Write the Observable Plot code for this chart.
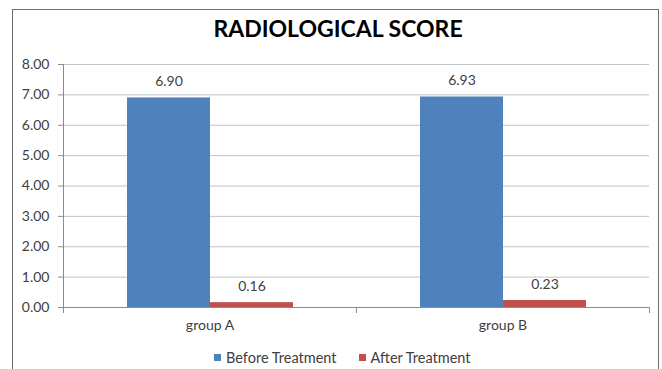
<!DOCTYPE html>
<html><head><meta charset="utf-8">
<script src="https://cdn.jsdelivr.net/npm/d3@7"></script>
<script src="https://cdn.jsdelivr.net/npm/@observablehq/plot@0.6"></script>
<style>
html,body{margin:0;padding:0;background:#fff;overflow:hidden;}
#wrap{position:relative;width:662px;height:369px;overflow:hidden;font-family:Lato,"Open Sans",sans-serif;}
#border{position:absolute;left:12px;top:9px;width:647px;height:420px;border:1.5px solid #6e6e6e;box-sizing:border-box;}
#chart{position:absolute;left:0;top:0;}
#title{position:absolute;top:14px;left:0;width:676px;text-align:center;font-weight:bold;font-size:23px;color:#000;}
#legend{position:absolute;top:349px;left:214px;font-size:14.5px;color:#404040;display:flex;align-items:center;white-space:nowrap;}
#legend .sw{display:inline-block;width:7px;height:7px;margin-right:5px;}
#legend .item{display:flex;align-items:center;margin-right:22px;}
</style></head>
<body>
<div id="wrap">
  <div id="chart"></div>
  <div id="border"></div>
  <div id="title">RADIOLOGICAL SCORE</div>
  <div id="legend"></div>
</div>
<script>
const groups = ["group A", "group B"];
const series = ["Before Treatment", "After Treatment"];
const beforeValues = [6.90, 6.93];
const afterValues = [0.16, 0.23];
const yTicks = [0, 1, 2, 3, 4, 5, 6, 7, 8];
const colors = ["#4F81BD", "#C0504D"];

const rows = [];
groups.forEach((g, i) => {
  rows.push({group: g, series: series[0], value: beforeValues[i]});
  rows.push({group: g, series: series[1], value: afterValues[i]});
});

const axisGray = "#8c8c8c";
const chart = Plot.plot({
  width: 662,
  height: 369,
  marginTop: 64,
  marginBottom: 62,
  marginLeft: 63,
  marginRight: 13,
  fx: {domain: groups, padding: 0, label: null},
  x: {domain: series, paddingInner: 0, paddingOuter: 0.755, axis: null},
  y: {domain: [0, 8], label: null},
  color: {domain: series, range: colors},
  style: {fontFamily: "Lato, 'Open Sans', sans-serif", fontSize: "14px", color: "#404040", background: "transparent"},
  marks: [
    Plot.gridY(yTicks, {stroke: "#c4c4c4", strokeOpacity: 1}),
    Plot.barY(rows, {fx: "group", x: "series", y: "value", fill: "series"}),
    Plot.text(rows, {fx: "group", x: "series", y: "value", text: d => d.value.toFixed(2), dy: -16, fill: "#404040"}),
    Plot.ruleY([0], {stroke: axisGray}),
    Plot.frame({anchor: "left", stroke: axisGray, facetAnchor: "left"}),
    Plot.frame({anchor: "left", stroke: axisGray, insetTop: 243, insetBottom: -5}),
    Plot.frame({anchor: "right", stroke: axisGray, insetTop: 243, insetBottom: -5, facetAnchor: "right"}),
    Plot.axisY(yTicks, {tickFormat: d => d.toFixed(2), tickSize: 5, tickPadding: 9, stroke: axisGray, label: null}),
    Plot.axisFx({anchor: "bottom", tickSize: 0, tickPadding: 13, label: null})
  ]
});
document.getElementById("chart").appendChild(chart);

const legend = document.getElementById("legend");
series.forEach((s, i) => {
  const item = document.createElement("span");
  item.className = "item";
  const sw = document.createElement("span");
  sw.className = "sw";
  sw.style.background = colors[i];
  item.appendChild(sw);
  item.appendChild(document.createTextNode(s));
  legend.appendChild(item);
});
</script>
</body></html>
